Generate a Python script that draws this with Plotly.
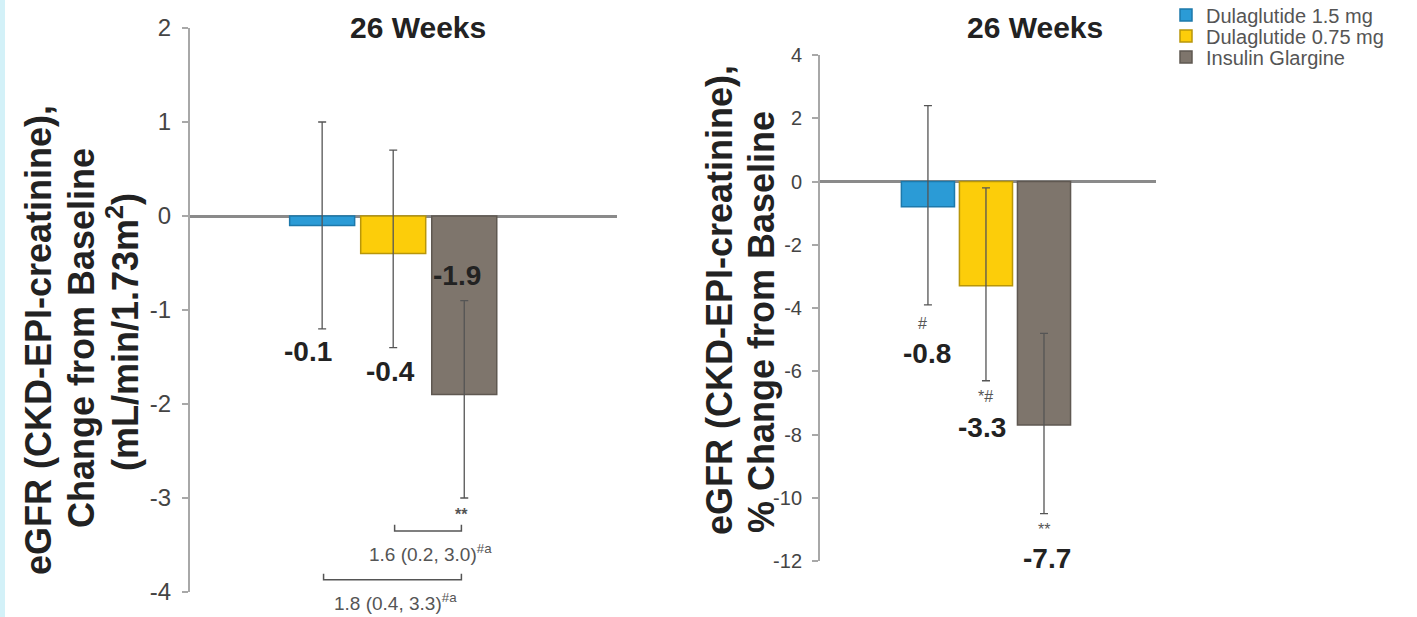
import plotly.graph_objects as go

W, H = 1417, 617

# ---------------- data ----------------
groups = ["Dulaglutide 1.5 mg", "Dulaglutide 0.75 mg", "Insulin Glargine"]
group_pos = [0, 1, 2]

abs_mean = [-0.1, -0.4, -1.9]
abs_ci_low = [-1.2, -1.4, -3.0]
abs_ci_high = [1.0, 0.7, -0.9]
abs_value_labels = ["-0.1", "-0.4", "-1.9"]
abs_marks = ["", "", "**"]

pct_mean = [-0.8, -3.3, -7.7]
pct_ci_low = [-3.9, -6.3, -10.5]
pct_ci_high = [2.4, -0.2, -4.8]
pct_value_labels = ["-0.8", "-3.3", "-7.7"]
pct_marks = ["#", "*#", "**"]

# treatment differences (left panel): (from group, to group, text)
comparisons = [(1, 2, "1.6 (0.2, 3.0)"), (0, 2, "1.8 (0.4, 3.3)")]

left_ticks = [2, 1, 0, -1, -2, -3, -4]
right_ticks = [4, 2, 0, -2, -4, -6, -8, -10, -12]

# ---------------- style ----------------
colors = ["#2b9bd6", "#fccd0a", "#7e756c"]
edge_colors = ["#1d79ab", "#b8960a", "#5f5851"]
FONT = "Liberation Sans, Arial, sans-serif"
TXT = "#222222"
legend_ids = ["legend", "legend2", "legend3"]
legend_rows_px = [15, 36, 57]


def px(x):
    return x / W


def py(y):
    return 1 - y / H


fig = go.Figure()

for i, g in enumerate(groups):
    fig.add_trace(go.Bar(
        x=[group_pos[i]], y=[abs_mean[i]], name=g, width=0.915,
        marker=dict(color=colors[i], line=dict(color=edge_colors[i], width=1.5)),
        error_y=dict(type="data", symmetric=False,
                     array=[abs_ci_high[i] - abs_mean[i]],
                     arrayminus=[abs_mean[i] - abs_ci_low[i]],
                     color="#555555", thickness=1.3, width=4),
        xaxis="x", yaxis="y", showlegend=True, legend=legend_ids[i], hoverinfo="skip"))

for i, g in enumerate(groups):
    fig.add_trace(go.Bar(
        x=[group_pos[i]], y=[pct_mean[i]], name=g, width=0.915,
        marker=dict(color=colors[i], line=dict(color=edge_colors[i], width=1.5)),
        error_y=dict(type="data", symmetric=False,
                     array=[pct_ci_high[i] - pct_mean[i]],
                     arrayminus=[pct_mean[i] - pct_ci_low[i]],
                     color="#555555", thickness=1.3, width=4),
        xaxis="x2", yaxis="y2", showlegend=False, hoverinfo="skip"))

annotations = []
shapes = []


def ann(**kw):
    base = dict(showarrow=False, xanchor="center", yanchor="middle")
    base.update(kw)
    annotations.append(base)


# --- left panel value labels ---
left_label_cfg = [  # (x offset, anchor: 'low'/'high', yshift px)
    (-0.2, "low", -23),
    (-0.04, "low", -24),
    (-0.1, "high", 25),
]
for i, (dx, anchor, ys) in enumerate(left_label_cfg):
    yv = abs_ci_low[i] if anchor == "low" else abs_ci_high[i]
    ann(x=group_pos[i] + dx, y=yv, xref="x", yref="y", yshift=ys,
        text=f"<b>{abs_value_labels[i]}</b>", font=dict(family=FONT, size=28, color=TXT))
    if abs_marks[i]:
        ann(x=group_pos[i] - 0.04, y=abs_ci_low[i], xref="x", yref="y", yshift=-16,
            text=f"<b>{abs_marks[i]}</b>", font=dict(family=FONT, size=16, color="#555555"))

# --- left panel comparison brackets ---
bracket_levels = [-3.35, -3.87]
for (a, b, txt), lvl in zip(comparisons, bracket_levels):
    x0, x1 = group_pos[a] + 0.02, group_pos[b] - 0.04
    shapes.append(dict(type="path", xref="x", yref="y",
                       path=f"M {x0},{lvl + 0.065} L {x0},{lvl} L {x1},{lvl} L {x1},{lvl + 0.065}",
                       line=dict(color="#555555", width=1.5)))
    ann(x=(x0 + x1) / 2 + 0.04, y=lvl, xref="x", yref="y", yshift=-22,
        text=txt + "<sup>#a</sup>", font=dict(family=FONT, size=19, color="#555555"))

# --- right panel labels ---
right_cfg = [  # (mark dx, mark yshift, value dx, value yshift)
    (-0.09, -19, -0.02, -49),
    (0.0, -16, -0.07, -47),
    (0.0, -16, 0.05, -45),
]
for i, (mdx, mys, vdx, vys) in enumerate(right_cfg):
    ann(x=group_pos[i] + mdx, y=pct_ci_low[i], xref="x2", yref="y2", yshift=mys,
        text=pct_marks[i], font=dict(family=FONT, size=16, color="#555555"))
    ann(x=group_pos[i] + vdx, y=pct_ci_low[i], xref="x2", yref="y2", yshift=vys,
        text=f"<b>{pct_value_labels[i]}</b>", font=dict(family=FONT, size=28, color=TXT))

# --- titles ---
for cx in (418, 1035):
    ann(x=px(cx), y=py(28), xref="paper", yref="paper",
        text="<b>26 Weeks</b>", font=dict(family=FONT, size=30, color=TXT))

# --- y-axis titles (one annotation per line) ---
left_title = ["eGFR (CKD-EPI-creatinine),", "Change from Baseline", "(mL/min/1.73m<sup>2</sup>)"]
for cx, cy, line in zip((38, 81, 123), (340, 338, 332), left_title):
    ann(x=px(cx), y=py(cy), xref="paper", yref="paper", textangle=-90,
        text=f"<b>{line}</b>", font=dict(family=FONT, size=36, color=TXT))
right_title = ["eGFR (CKD-EPI-creatinine),", "% Change from Baseline"]
for cx, cy, line in zip((719, 761), (300, 322), right_title):
    ann(x=px(cx), y=py(cy), xref="paper", yref="paper", textangle=-90,
        text=f"<b>{line}</b>", font=dict(family=FONT, size=36, color=TXT))

# left edge tint strip
shapes.append(dict(type="rect", xref="paper", yref="paper", x0=0, x1=px(5), y0=0, y1=1,
                   fillcolor="#d3f1f8", line=dict(width=0), layer="below"))

axis_common = dict(showgrid=False, showline=True, linecolor="#a8a8a8", linewidth=2,
                   ticks="outside", ticklen=6, tickcolor="#a8a8a8", tickwidth=1.5,
                   zeroline=True, zerolinecolor="#8a8a8a", zerolinewidth=2.5,
                   ticklabelstandoff=6, automargin=False)

legend_common = dict(xanchor="left", yanchor="middle", x=px(1166),
                     font=dict(family=FONT, size=20, color="#555555"),
                     bgcolor="rgba(0,0,0,0)", itemclick=False, itemdoubleclick=False)

fig.update_layout(
    width=W, height=H,
    margin=dict(l=0, r=0, t=0, b=0, autoexpand=False),
    paper_bgcolor="white", plot_bgcolor="white",
    barmode="overlay",
    xaxis=dict(domain=[px(190), px(617)], range=[-1.86, 4.15], visible=False, anchor="y"),
    yaxis=dict(domain=[py(592), py(28)], range=[-4, 2], anchor="x",
               tickvals=left_ticks, ticktext=[str(v) for v in left_ticks],
               tickfont=dict(family=FONT, size=24, color="#444444"), **axis_common),
    xaxis2=dict(domain=[px(820), px(1156)], range=[-1.86, 3.93], visible=False, anchor="y2"),
    yaxis2=dict(domain=[py(561), py(55)], range=[-12, 4], anchor="x2",
                tickvals=right_ticks, ticktext=[str(v) for v in right_ticks],
                tickfont=dict(family=FONT, size=20, color="#444444"), **axis_common),
    annotations=annotations,
    shapes=shapes,
)
for lid, row in zip(legend_ids, legend_rows_px):
    fig.update_layout({lid: dict(y=py(row), **legend_common)})

fig.write_html("out.html")
